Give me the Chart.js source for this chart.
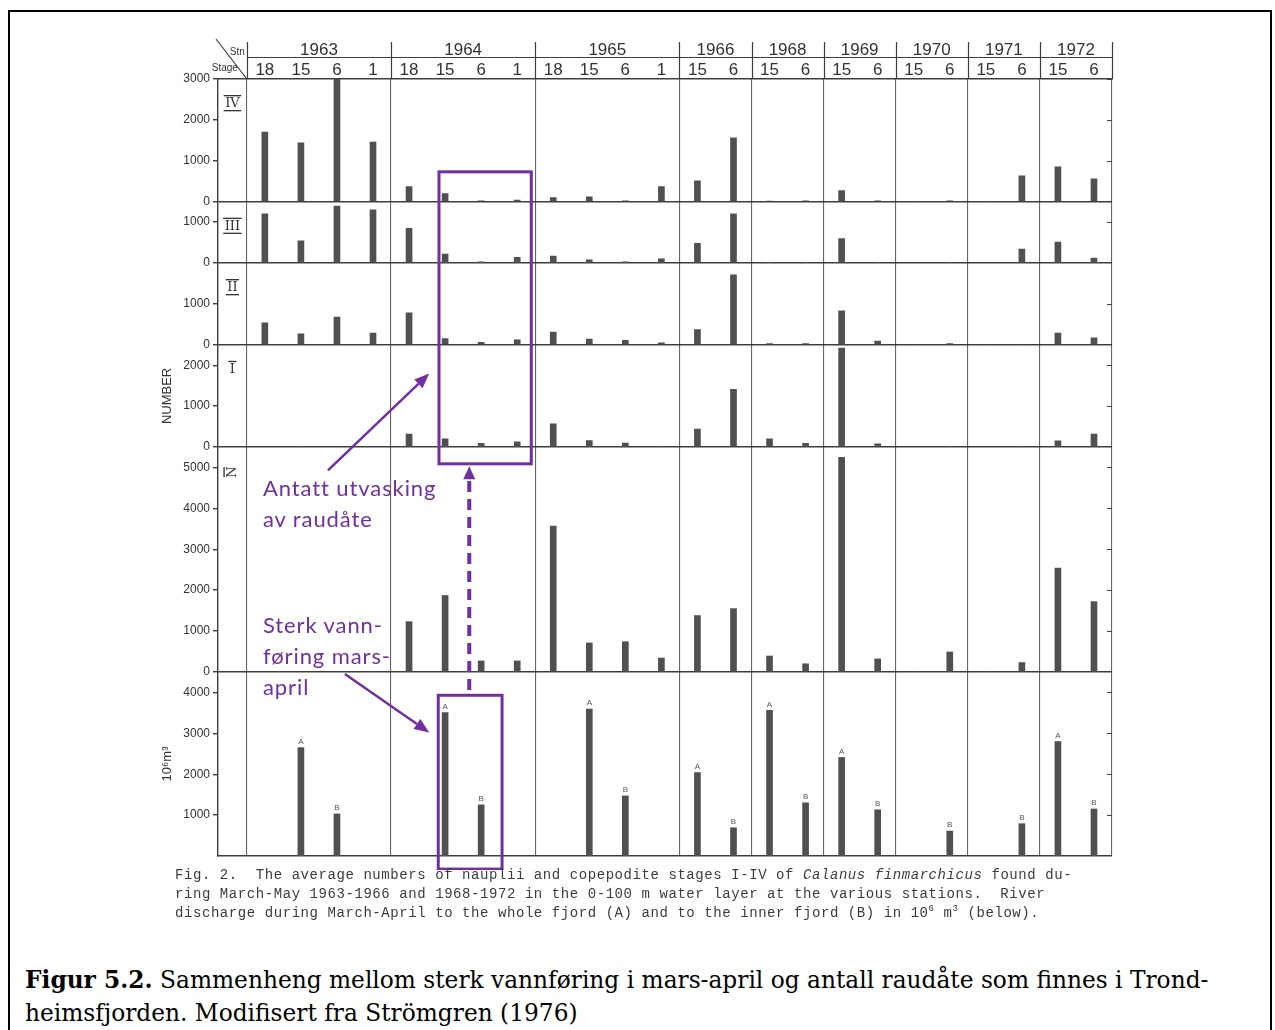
<!DOCTYPE html>
<html lang="no">
<head>
<meta charset="utf-8">
<title>Calanus finmarchicus i Trondheimsfjorden</title>
<script src="https://cdn.jsdelivr.net/npm/chart.js@4.4.1/dist/chart.umd.min.js"></script>
<style>
  body { margin: 0; width: 1275px; height: 1030px; overflow: hidden; position: relative; background: #fff; }
  #frame { position: absolute; left: 8px; top: 10px; width: 1264px; height: 1040px; border: 2px solid #000; box-sizing: border-box; }
  #plot { position: absolute; left: 150px; top: 30px; }
  .note { position: absolute; left: 263px; color: #7030a0; font: 22px Lato, sans-serif; letter-spacing: 0.9px; line-height: 31px; white-space: pre; }
  #fig { position: absolute; left: 175px; top: 866px; color: #3c3c3c; font: 14px "Liberation Mono", monospace; letter-spacing: 0.57px; line-height: 19px; white-space: pre; }
  #fig sup { font-size: 9px; vertical-align: 6px; line-height: 0; }
  #caption { position: absolute; left: 25px; top: 963px; font: 23.3px "DejaVu Serif", serif; line-height: 33px; color: #000; white-space: pre; }
</style>
</head>
<body>
<div id="frame"></div>
<canvas id="plot" width="980" height="840"></canvas>
<div class="note" style="top:472px">Antatt utvasking
av raudåte</div>
<div class="note" style="top:609px">Sterk vann-
føring mars-
april</div>
<div id="fig">Fig. 2.  The average numbers of nauplii and copepodite stages I-IV of <i>Calanus finmarchicus</i> found du-
ring March-May 1963-1966 and 1968-1972 in the 0-100 m water layer at the various stations.  River
discharge during March-April to the whole fjord (A) and to the inner fjord (B) in 10<sup>6</sup> m<sup>3</sup> (below).</div>
<div id="caption"><b>Figur 5.2.</b> Sammenheng mellom sterk vannføring i mars-april og antall raudåte som finnes i Trond-
heimsfjorden. Modifisert fra Strömgren (1976)</div>
<script>
const years = ['1963', '1964', '1965', '1966', '1968', '1969', '1970', '1971', '1972'];
const yearStations = [
  ['18', '15', '6', '1'], ['18', '15', '6', '1'], ['18', '15', '6', '1'],
  ['15', '6'], ['15', '6'], ['15', '6'], ['15', '6'], ['15', '6'], ['15', '6']
];
// average numbers per station, same order as the station row
const stageIV  = [1700, 1440, 3000, 1460, 370, 200, 20, 40, 100, 120, 20, 370, 510, 1560, 10, 20, 270, 20, 0, 20, 0, 630, 850, 560];
const stageIII = [1200, 540, 1390, 1300, 850, 220, 30, 140, 170, 80, 30, 100, 480, 1200, 10, 10, 600, 20, 0, 20, 0, 340, 510, 120];
const stageII  = [540, 270, 680, 290, 780, 150, 60, 120, 310, 140, 110, 50, 370, 1710, 30, 30, 830, 90, 0, 30, 0, 0, 290, 170];
const stageI   = [0, 0, 0, 0, 320, 200, 90, 130, 570, 160, 100, 20, 440, 1410, 200, 90, 2420, 80, 0, 20, 0, 0, 150, 320];
const nauplii  = [0, 0, 0, 0, 1230, 1870, 270, 270, 3570, 710, 740, 340, 1380, 1550, 390, 200, 5250, 320, 0, 490, 0, 230, 2540, 1720];
// river discharge march-april, 10^6 m3, one per year
const dischargeA = [2650, 3510, 3590, 2040, 3560, 2410, null, null, 2800];
const dischargeB = [1030, 1250, 1470, 690, 1300, 1130, 610, 790, 1150];

const ticksIV = [0, 1000, 2000, 3000];
const ticksIII = [0, 1000];
const ticksII = [0, 1000];
const ticksI = [0, 1000, 2000];
const ticksN = [0, 1000, 2000, 3000, 4000, 5000];
const ticksQ = [1000, 2000, 3000, 4000];

const ink = '#3e3e3e';
const barColor = '#505050';
const purple = '#7030a0';

const slotLabels = [];
const yearStart = [0];
yearStations.forEach(st => { st.forEach(s => slotLabels.push(s)); yearStart.push(slotLabels.length); });
const slotX = slotLabels.map((s, i) => i + 0.5);
const yearMid = years.map((y, i) => (yearStart[i] + yearStart[i + 1]) / 2);
// A is drawn in the stn 15 column, B in the stn 6 column
const posA = years.map((y, i) => yearStart[i] + yearStations[i].indexOf('15') + 0.5);
const posB = years.map((y, i) => yearStart[i] + yearStations[i].indexOf('6') + 0.5);
const xMin = -0.8, xMax = slotLabels.length;

function bars(values, xs, axis) {
  return {
    data: values.map((v, i) => ({x: xs[i], y: v})),
    yAxisID: axis,
    backgroundColor: barColor,
    barThickness: 6,
    grouped: false
  };
}

function panel(max, ticks, title) {
  return {
    type: 'linear', position: 'left', stack: 'panels', stackWeight: max, min: 0, max: max,
    afterBuildTicks: s => { s.ticks = ticks.map(v => ({value: v})); },
    afterFit: s => { s.width = 68; },
    ticks: {color: '#333', font: {family: 'Liberation Sans', size: 12}, padding: 3, callback: v => String(v)},
    grid: {
      color: c => (c.tick && c.tick.value === 0) ? ink : 'rgba(0,0,0,0)',
      lineWidth: 1.4,
      tickColor: ink,
      tickLength: 5
    },
    border: {color: ink, width: 1.4},
    title: {display: !!title, text: title || '', color: '#333',
            font: {family: 'Liberation Sans', size: 13}, padding: {top: 10, bottom: 0}}
  };
}

// header lines, stage names, A/B marks and the purple notes
const scan = {
  id: 'scan',
  afterDraw(chart) {
    const {ctx, chartArea: ca, scales: s} = chart;
    const X = v => s.x.getPixelForValue(v);
    const Y = (id, v) => s[id].getPixelForValue(v);
    const head = s.xy.top + 8;
    ctx.save();

    ctx.strokeStyle = ink;
    ctx.lineWidth = 1.2;
    ctx.beginPath();
    yearStart.forEach(v => {
      const px = Math.round(X(v)) + 0.5;
      ctx.moveTo(px, ca.top);
      ctx.lineTo(px, head);
    });
    const hy = Math.round(s.xy.bottom) + 1.5;
    ctx.moveTo(X(0), hy);
    ctx.lineTo(X(xMax), hy);
    ctx.moveTo(ca.left - 2, head - 3);
    ctx.lineTo(X(0), ca.top);
    ['yIV', 'yIII', 'yII', 'yI', 'yN', 'yQ'].forEach(id => s[id].ticks.forEach(t => {
      if (t.value) {
        const py = Math.round(Y(id, t.value)) + 0.5;
        ctx.moveTo(ca.right - 5, py);
        ctx.lineTo(ca.right, py);
      }
    }));
    ctx.stroke();

    ctx.fillStyle = '#333';
    ctx.font = '10px "Liberation Sans"';
    ctx.textBaseline = 'middle';
    ctx.textAlign = 'left';
    ctx.fillText('Stn', X(0) - 17, s.xy.bottom - 4);
    ctx.textAlign = 'right';
    ctx.fillText('Stage', X(0) - 9, s.xs.top + 12);

    ctx.font = '13px "DejaVu Serif"';
    ctx.textAlign = 'center';
    const sx = X(-0.4);
    [['yIV', 'IV'], ['yIII', 'III'], ['yII', 'II'], ['yI', 'I']].forEach(([id, t]) => {
      const cy = s[id].top + 25;
      const w = ctx.measureText(t).width + 3;
      ctx.fillText(t, sx, cy);
      ctx.fillRect(sx - w / 2, cy - 9, w, 1.3);
      if (t !== 'I') ctx.fillRect(sx - w / 2, cy + 6, w, 1.3);
    });
    ctx.save();
    ctx.translate(sx, s.yN.top + 25);
    ctx.rotate(-Math.PI / 2);
    ctx.fillText('N', 0, 0);
    ctx.fillRect(-5, -9, 10, 1.3);
    ctx.restore();

    ctx.font = '8px "Liberation Sans"';
    ctx.fillStyle = '#555';
    ctx.textBaseline = 'bottom';
    [[5, 'A'], [6, 'B']].forEach(([di, t]) => {
      chart.getDatasetMeta(di).data.forEach((el, i) => {
        if (chart.data.datasets[di].data[i].y != null) ctx.fillText(t, el.x, el.y - 2);
      });
    });

    ctx.strokeStyle = purple;
    ctx.fillStyle = purple;
    ctx.lineWidth = 3;
    ctx.strokeRect(X(5.33), Y('yIV', 730), X(7.89) - X(5.33), Y('yN', 5090) - Y('yIV', 730));
    ctx.strokeRect(X(5.31), Y('yQ', 3930), X(7.08) - X(5.31), Y('yQ', -320) - Y('yQ', 3930));

    function arrow(x0, y0, x1, y1, dash, L, W) {
      const a = Math.atan2(y1 - y0, x1 - x0);
      const bx = x1 - L * Math.cos(a), by = y1 - L * Math.sin(a);
      ctx.setLineDash(dash);
      ctx.beginPath();
      ctx.moveTo(x0, y0);
      ctx.lineTo(bx, by);
      ctx.stroke();
      ctx.setLineDash([]);
      ctx.beginPath();
      ctx.moveTo(x1, y1);
      ctx.lineTo(bx + W * Math.sin(a), by - W * Math.cos(a));
      ctx.lineTo(bx - W * Math.sin(a), by + W * Math.cos(a));
      ctx.closePath();
      ctx.fill();
    }
    ctx.lineWidth = 2.5;
    arrow(X(2.25), Y('yN', 4930), X(5.06), Y('yI', 1800), [], 15, 6);
    arrow(X(2.72), Y('yQ', 4450), X(5.06), Y('yQ', 3020), [], 15, 6);
    ctx.lineWidth = 4;
    arrow(X(6.17), Y('yQ', 4060), X(6.17), Y('yN', 5030), [11, 7], 13, 6);
    ctx.restore();
  }
};

new Chart(document.getElementById('plot'), {
  type: 'bar',
  data: {
    datasets: [
      bars(stageIV, slotX, 'yIV'),
      bars(stageIII, slotX, 'yIII'),
      bars(stageII, slotX, 'yII'),
      bars(stageI, slotX, 'yI'),
      bars(nauplii, slotX, 'yN'),
      bars(dischargeA, posA, 'yQ'),
      bars(dischargeB, posB, 'yQ')
    ]
  },
  options: {
    responsive: false,
    animation: false,
    devicePixelRatio: 1,
    layout: {padding: {top: 4, right: 18, bottom: 14, left: 0}},
    plugins: {legend: {display: false}, tooltip: {enabled: false}},
    scales: {
      x: {
        type: 'linear', min: xMin, max: xMax, offset: false,
        afterBuildTicks: s => { s.ticks = yearStart.map(v => ({value: v})); },
        afterFit: s => { s.height = 0; },
        ticks: {display: false},
        grid: {offset: false, color: '#666', lineWidth: 1.1, drawTicks: false},
        border: {color: ink, width: 1.4}
      },
      xs: {
        type: 'linear', position: 'top', min: xMin, max: xMax, offset: false,
        afterBuildTicks: s => { s.ticks = slotX.map(v => ({value: v})); },
        afterFit: s => { s.height = 23; },
        ticks: {callback: (v, i) => slotLabels[i], color: '#333', autoSkip: false, maxRotation: 0,
                font: {family: 'Liberation Sans', size: 17}, padding: -2},
        grid: {display: false, drawTicks: false, offset: false},
        border: {display: true, color: ink, width: 1.4}
      },
      xy: {
        type: 'linear', position: 'top', min: xMin, max: xMax, offset: false,
        afterBuildTicks: s => { s.ticks = yearMid.map(v => ({value: v})); },
        afterFit: s => { s.height = 22; },
        ticks: {callback: (v, i) => years[i], color: '#333', autoSkip: false, maxRotation: 0,
                font: {family: 'Liberation Sans', size: 17}, padding: -5},
        grid: {display: false, drawTicks: false, offset: false},
        border: {display: false}
      },
      yQ: panel(4500, ticksQ, '10⁶m³'),
      yN: panel(5500, ticksN),
      yI: panel(2500, ticksI, 'NUMBER'),
      yII: panel(2000, ticksII),
      yIII: panel(1500, ticksIII),
      yIV: panel(3000, ticksIV)
    }
  },
  plugins: [scan]
});
</script>
</body>
</html>
